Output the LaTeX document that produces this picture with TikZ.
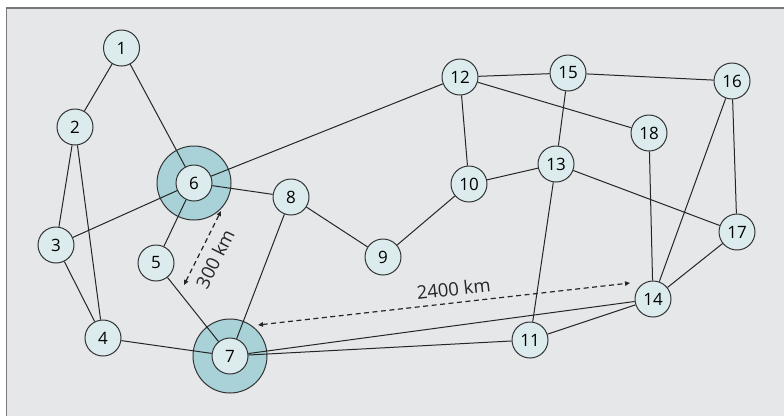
\documentclass[tikz,border=0pt]{standalone}
\usepackage{fontspec}
\setmainfont{Open Sans}
\usetikzlibrary{arrows.meta}

\definecolor{panelgrey}{RGB}{230,231,233}
\definecolor{panelline}{RGB}{120,120,122}
\definecolor{sitefill}{RGB}{220,236,238}
\definecolor{hubfill}{RGB}{168,210,216}

\begin{document}
\begin{tikzpicture}[
    x = 1pt,
    y = -1pt,
    every node/.style = {font = \fontsize{17}{20}\selectfont},
    site/.style = {
        circle, draw = black!80, fill = sitefill,
        minimum size = 36pt, inner sep = 0pt, line width = 1pt
    },
    hub/.style = {
        circle, draw = black!80, fill = hubfill,
        minimum size = 74pt, inner sep = 0pt, line width = 1pt
    },
    link/.style = {black!85, line width = 1pt},
    span/.style = {
        black!85, dash pattern = on 5pt off 3.5pt, line width = 1.2pt,
        {Triangle[length=5pt, width=4.5pt]}-{Triangle[length=5pt, width=4.5pt]}
    },
    spanlabel/.style = {font = \fontsize{18.5}{22}\selectfont, sloped}
]

\useasboundingbox (0,0) rectangle (784,416);
\fill[panelgrey] (6.5,8) rectangle (784,416);
\draw[panelline, line width = 1.2pt] (6.5,416) -- (6.5,8) -- (784,8);

% rings around the two hub sites
\node[hub] (h6) at (194,183) {};
\node[hub] (h7) at (230,356) {};

% sites
\node[site] (n1)  at (121.5,48)  {1};
\node[site] (n2)  at (75,127)    {2};
\node[site] (n3)  at (56,245)    {3};
\node[site] (n4)  at (103,338)   {4};
\node[site] (n5)  at (156,263)   {5};
\node[site] (n6)  at (194,183)   {6};
\node[site] (n7)  at (230,356)   {7};
\node[site] (n8)  at (291,197)   {8};
\node[site] (n9)  at (383,257)   {9};
\node[site] (n10) at (469,184)   {10};
\node[site] (n11) at (530,340)   {11};
\node[site] (n12) at (460,77)    {12};
\node[site] (n13) at (556,164)   {13};
\node[site] (n14) at (653,299)   {14};
\node[site] (n15) at (568,73)    {15};
\node[site] (n16) at (732,81)    {16};
\node[site] (n17) at (737,232)   {17};
\node[site] (n18) at (649,133)   {18};

% links
\draw[link] (n1) -- (n2)  (n1) -- (n6)  (n2) -- (n3)  (n2) -- (n4);
\draw[link] (n3) -- (n6)  (n3) -- (n4)  (n4) -- (n7)  (n5) -- (n6);
\draw[link] (n5) -- (n7)  (n6) -- (n8)  (n6) -- (n12) (n8) -- (n7);
\draw[link] (n8) -- (n9)  (n9) -- (n10) (n10) -- (n12) (n10) -- (n13);
\draw[link] (n12) -- (n15) (n12) -- (n18) (n15) -- (n13) (n15) -- (n16);
\draw[link] (n16) -- (n17) (n16) -- (n14) (n13) -- (n11) (n13) -- (n17);
\draw[link] (n18) -- (n14) (n17) -- (n14) (n14) -- (n11);
\draw[link] (n7) -- (n14) (n7) -- (n11);

% distances
\coordinate (s300a) at (184,285);
\coordinate (s300b) at (221,211);
\coordinate (s2400a) at (258,325);
\coordinate (s2400b) at (630,283);

\draw[span] (s300a) -- node[spanlabel, below = 5pt, pos = 0.45] {300 km} (s300b);
\draw[span] (s2400a) -- node[spanlabel, above = 3pt, pos = 0.53] {2400 km} (s2400b);

\end{tikzpicture}
\end{document}
